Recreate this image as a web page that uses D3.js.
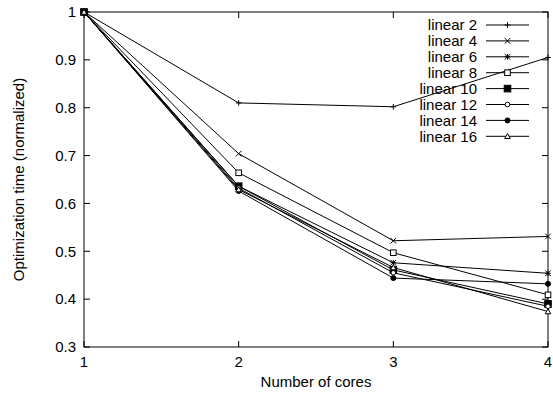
<!DOCTYPE html>
<html>
<head>
<meta charset="utf-8">
<script src="https://cdn.jsdelivr.net/npm/d3@7"></script>
<style>
  body { margin: 0; background: #fff; }
  svg { font-family: "Liberation Sans", Arial, sans-serif; }
</style>
</head>
<body>
<svg width="553" height="393"></svg>
<script>
// chart data
var cores = [1, 2, 3, 4];
var seriesNames = ["linear 2", "linear 4", "linear 6", "linear 8", "linear 10", "linear 12", "linear 14", "linear 16"];
var lin2 = [1, 0.81, 0.802, 0.905];
var lin4 = [1, 0.704, 0.522, 0.531];
var lin6 = [1, 0.636, 0.476, 0.454];
var lin8 = [1, 0.664, 0.497, 0.409];
var lin10 = [1, 0.636, 0.461, 0.39];
var lin12 = [1, 0.632, 0.455, 0.385];
var lin14 = [1, 0.626, 0.444, 0.432];
var lin16 = [1, 0.629, 0.466, 0.374];
var yTicks = [0.3, 0.4, 0.5, 0.6, 0.7, 0.8, 0.9, 1];
var markerTypes = ["plus", "cross", "star", "box", "fbox", "circle", "fcircle", "triangle"];

var allSeries = [lin2, lin4, lin6, lin8, lin10, lin12, lin14, lin16];

var margin = { top: 12, right: 5, bottom: 46, left: 84 },
  svg_dx = 553,
  svg_dy = 393,
  fs = 15;

var x = d3.scaleLinear().domain([1, 4]).range([margin.left, svg_dx - margin.right]),
  y = d3.scaleLinear().domain([0.3, 1]).range([svg_dy - margin.bottom, margin.top]);

var svg = d3.select("svg");

// frame
svg.append("rect")
  .attr("x", x(1)).attr("y", y(1))
  .attr("width", x(4) - x(1)).attr("height", y(0.3) - y(1))
  .attr("fill", "none").attr("stroke", "#000").attr("stroke-width", 1);

// inward ticks on all sides
var tl = 6;
var ticksG = svg.append("g").attr("stroke", "#000").attr("stroke-width", 1);
yTicks.forEach(function (t) {
  ticksG.append("line").attr("x1", x(1)).attr("x2", x(1) + tl).attr("y1", y(t)).attr("y2", y(t));
  ticksG.append("line").attr("x1", x(4)).attr("x2", x(4) - tl).attr("y1", y(t)).attr("y2", y(t));
});
cores.forEach(function (c) {
  ticksG.append("line").attr("x1", x(c)).attr("x2", x(c)).attr("y1", y(0.3)).attr("y2", y(0.3) - tl);
  ticksG.append("line").attr("x1", x(c)).attr("x2", x(c)).attr("y1", y(1)).attr("y2", y(1) + tl);
});

// tick labels
svg.append("g").selectAll("text").data(yTicks).enter().append("text")
  .attr("x", x(1) - 8).attr("y", function (d) { return y(d); })
  .attr("dy", "0.35em").attr("text-anchor", "end").attr("font-size", fs)
  .text(function (d) { return d === 1 ? "1" : d3.format(".1f")(d); });

svg.append("g").selectAll("text").data(cores).enter().append("text")
  .attr("x", function (d) { return x(d); }).attr("y", y(0.3) + 20)
  .attr("text-anchor", "middle").attr("font-size", fs)
  .text(function (d) { return d; });

// axis titles
svg.append("text")
  .attr("transform", "translate(24," + ((y(1) + y(0.3)) / 2) + ") rotate(-90)")
  .attr("text-anchor", "middle").attr("font-size", fs)
  .text("Optimization time (normalized)");

svg.append("text")
  .attr("x", (x(1) + x(4)) / 2).attr("y", 387)
  .attr("text-anchor", "middle").attr("font-size", fs)
  .text("Number of cores");

// gnuplot-like point markers
function drawMarker(g, type, cx, cy) {
  var s = 2.8;
  var m = g.append("g").attr("transform", "translate(" + cx + "," + cy + ")")
    .attr("stroke", "#000").attr("stroke-width", 1);
  if (type === "plus" || type === "star") {
    m.append("path").attr("d", "M" + (-s) + ",0H" + s + "M0," + (-s) + "V" + s);
  }
  if (type === "cross" || type === "star") {
    m.append("path").attr("d", "M" + (-s) + "," + (-s) + "L" + s + "," + s + "M" + (-s) + "," + s + "L" + s + "," + (-s));
  }
  if (type === "box") m.append("rect").attr("x", -s).attr("y", -s).attr("width", 2 * s).attr("height", 2 * s).attr("fill", "#fff");
  if (type === "fbox") m.append("rect").attr("x", -s - 0.5).attr("y", -s - 0.5).attr("width", 2 * s + 1).attr("height", 2 * s + 1).attr("fill", "#000");
  if (type === "circle") m.append("circle").attr("r", s - 0.5).attr("fill", "#fff");
  if (type === "fcircle") m.append("circle").attr("r", s - 0.3).attr("fill", "#000");
  if (type === "triangle") m.append("path").attr("d", "M0," + (-s) + "L" + s + "," + (s * 0.8) + "H" + (-s) + "Z").attr("fill", "#fff");
}

var line = d3.line()
  .x(function (d, i) { return x(cores[i]); })
  .y(function (d) { return y(d); });

var plot = svg.append("g");
allSeries.forEach(function (vals, k) {
  plot.append("path").datum(vals).attr("d", line)
    .attr("fill", "none").attr("stroke", "#000").attr("stroke-width", 1);
  vals.forEach(function (v, i) { drawMarker(plot, markerTypes[k], x(cores[i]), y(v)); });
});

// legend
var legend = svg.append("g");
seriesNames.forEach(function (name, k) {
  var ly = 25 + k * 15.9;
  legend.append("text").attr("x", 477).attr("y", ly).attr("dy", "0.35em")
    .attr("text-anchor", "end").attr("font-size", fs).text(name);
  legend.append("line").attr("x1", 486).attr("x2", 529).attr("y1", ly).attr("y2", ly)
    .attr("stroke", "#000").attr("stroke-width", 1);
  drawMarker(legend, markerTypes[k], 507.5, ly);
});
</script>
</body>
</html>
